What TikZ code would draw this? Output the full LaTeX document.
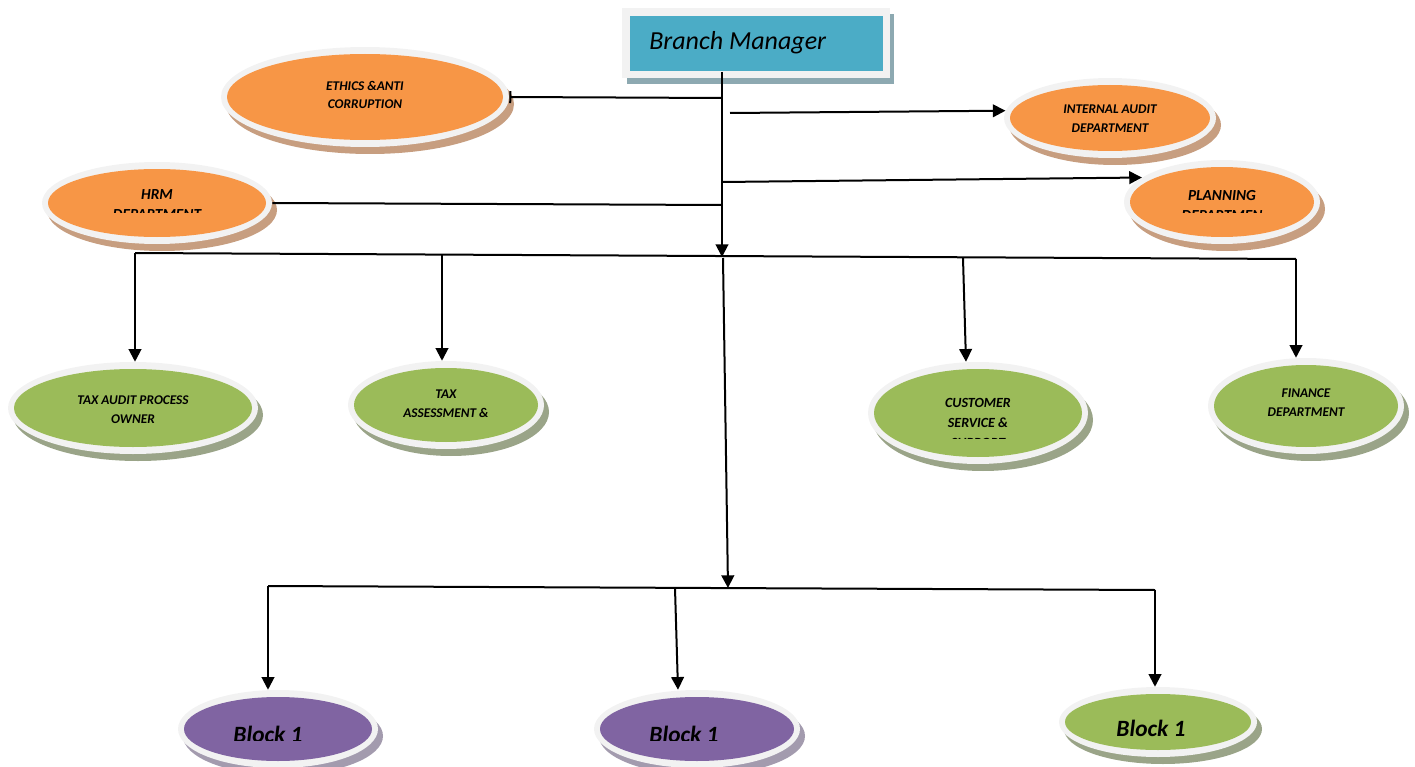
\documentclass[tikz,border=0pt]{standalone}
\usepackage{fontspec}
\setmainfont{Carlito}
\usetikzlibrary{arrows.meta,shapes.geometric}
\definecolor{orng}{HTML}{F79646}
\definecolor{orngsh}{HTML}{C79E80}
\definecolor{grn}{HTML}{9BBB59}
\definecolor{grnsh}{HTML}{9AA488}
\definecolor{purp}{HTML}{8064A2}
\definecolor{purpsh}{HTML}{A39BAE}
\definecolor{bluec}{HTML}{4BACC6}
\definecolor{bluesh}{HTML}{8DA9B1}
\definecolor{ringc}{HTML}{F2F2F2}
\tikzset{
  arr/.style={line width=1.5pt,-{Triangle[width=9.5pt,length=9.5pt]}},
  ln/.style={line width=1.5pt},
  lbl/.style={font=\bfseries\itshape\fontsize{10}{14}\selectfont, align=center, inner sep=0pt},
  lblb/.style={font=\bfseries\itshape\fontsize{11.5}{15}\selectfont, align=center, inner sep=0pt},
  blk/.style={font=\bfseries\itshape\fontsize{17.5}{20}\selectfont, inner sep=0pt},
}
\newcommand\myoval[7]{%
  \fill[#7] (#2+5,#3+7) ellipse [x radius=#4, y radius=#5];
  \node[ellipse, inner sep=0pt, fill=ringc, minimum width={1.5pt*#4}, minimum height={1.5pt*#5}] (#1) at (#2,#3) {};
  \fill[#6] (#1.center) ellipse [x radius=#4-6, y radius=#5-7];
}
\begin{document}
\begin{tikzpicture}[x=0.75pt,y=-0.75pt]
\useasboundingbox (0,0) rectangle (1415,767);
% Branch manager
\fill[bluesh] (627,14) rectangle (894,84);
\fill[ringc] (622,8) rectangle (890,78);
\node[fill=bluec, minimum width=189.75pt, minimum height=41.25pt, inner sep=0pt, anchor=north west] (bm) at (630,16) {};
\node[anchor=west, font=\itshape\fontsize{19.5}{20}\selectfont, inner sep=0pt] (bmT) at (649,43) {Branch Manager};
% ovals
\myoval{ethics}{365}{97}{144}{50}{orng}{orngsh}
\myoval{ia}{1110}{118}{106}{40}{orng}{orngsh}
\myoval{hrm}{157}{203}{115}{41}{orng}{orngsh}
\myoval{plan}{1222}{202}{98}{42}{orng}{orngsh}
\myoval{tax}{133}{408}{125}{46}{grn}{grnsh}
\myoval{assess}{446}{405}{98}{44}{grn}{grnsh}
\myoval{cust}{978}{413}{110}{51}{grn}{grnsh}
\myoval{fin}{1306}{406}{98}{48}{grn}{grnsh}
\myoval{blkA}{278}{729}{100}{39}{purp}{purpsh}
\myoval{blkB}{697}{729}{103}{39}{purp}{purpsh}
\myoval{blkC}{1158}{722}{99}{35}{grn}{grnsh}
% labels
\node[lbl] (ethicsT) at (365,95) {ETHICS \&ANTI\\CORRUPTION};
\node[lbl] (iaT) at (1110,119) {INTERNAL AUDIT\\DEPARTMENT};
\begin{scope}
  \clip (40,150) rectangle (280,212);
  \node[lblb] (hrmT) at (157,205) {HRM\\DEPARTMENT};
\end{scope}
\begin{scope}
  \clip (1120,150) rectangle (1330,212);
  \node[lblb] (planT) at (1222,205) {PLANNING\\DEPARTMEN};
\end{scope}
\node[lbl] (taxT) at (133,409.5) {TAX AUDIT PROCESS\\OWNER};
\node[lbl] (assessT) at (446,404) {TAX\\ASSESSMENT \&};
\begin{scope}
  \clip (860,380) rectangle (1100,438);
  \node[lbl, font=\bfseries\itshape\fontsize{10.5}{15}\selectfont] (custT) at (978,423) {CUSTOMER\\SERVICE \&\\SUPPORT};
\end{scope}
\node[lbl] (finT) at (1306,402.5) {FINANCE\\DEPARTMENT};
\begin{scope}
  \clip (170,700) rectangle (390,740);
  \node[blk] (blkAT) at (268,734) {Block 1};
\end{scope}
\begin{scope}
  \clip (590,700) rectangle (810,740);
  \node[blk] (blkBT) at (684,734) {Block 1};
\end{scope}
\node[blk] (blkCT) at (1151,728) {Block 1};
% coordinates
\coordinate (bmout) at (722,72);
\coordinate (jE) at (722,98);
\coordinate (jI) at (730,113);
\coordinate (jP) at (722,182);
\coordinate (jH) at (722,205);
\coordinate (t1) at (722,257);
\coordinate (t2) at (723,258);
\coordinate (t3) at (728,588);
\coordinate (h1) at (135,253);
\coordinate (h2) at (442,254);
\coordinate (h3) at (963,258);
\coordinate (h4) at (1296,259);
\coordinate (b1) at (268,586);
\coordinate (b2) at (675,588);
\coordinate (b3) at (1155,590);
% connectors
\draw[arr] (bmout) -- (t1);
\draw[ln,-{Bar[width=9pt]}] (jE) -- (ethics.east);
\draw[arr] (jI) -- (ia.176);
\draw[arr] (jP) -- (plan.163);
\draw[ln] (hrm.east) -- (jH);
\draw[ln] (h1) -- (h4);
\draw[arr] (h1) -- (h1 |- tax.north);
\draw[arr] (h2) -- (h2 |- assess.north);
\draw[arr] (h3) -- (cust.north -| 966,0);
\draw[arr] (h4) -- (h4 |- fin.north);
\draw[arr] (t2) -- (t3);
\draw[ln] (b1) -- (b3);
\draw[arr] (b1) -- (b1 |- blkA.north);
\draw[arr] (b2) -- (blkB.north -| 678,0);
\draw[arr] (b3) -- (b3 |- blkC.north);
\end{tikzpicture}
\end{document}
